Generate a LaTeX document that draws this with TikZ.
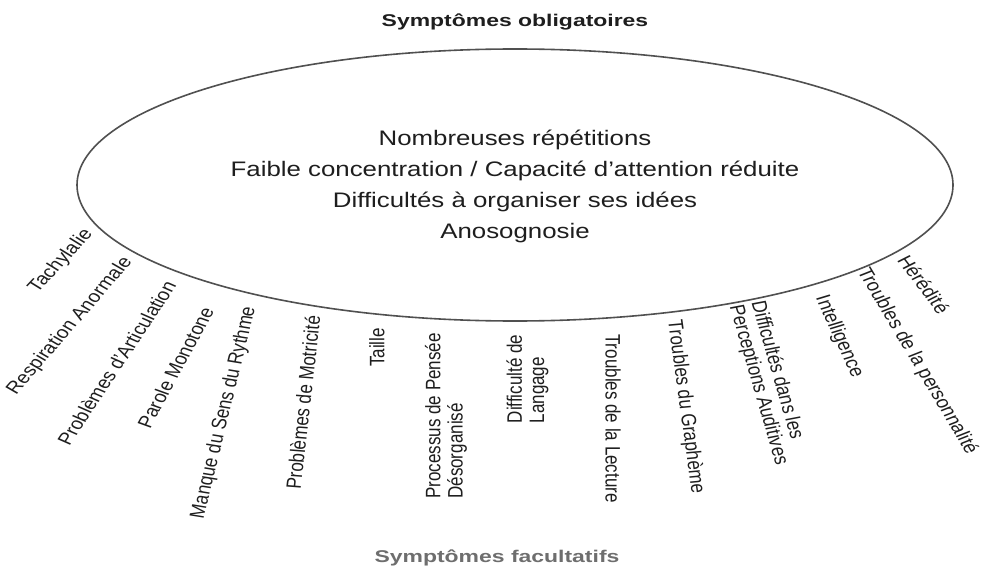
\documentclass[tikz,border=0pt]{standalone}
\usepackage{fontspec}
\setmainfont{Liberation Sans}
\usetikzlibrary{shapes.geometric}
\definecolor{ink}{HTML}{1E1E1E}
\definecolor{edge}{HTML}{505050}
\definecolor{soft}{HTML}{6E6E6E}
\tikzset{
  lbl/.style={font=\fontsize{17}{18}\selectfont, text=ink, xscale=1.23, inner sep=0pt, align=left},
  headline/.style={font=\fontsize{17}{20}\selectfont\bfseries, xscale=1.35, inner sep=0pt},
  coreline/.style={font=\fontsize{21}{31}\selectfont, text=ink, xscale=1.23, align=center, inner sep=0pt},
}
\begin{document}
\begin{tikzpicture}[x=1pt,y=-1pt]
\useasboundingbox (0,0) rectangle (981,588);
\fill[white] (0,0) rectangle (981,588);

\node[headline, text=ink] (title) at (515,22) {Symptômes obligatoires};
\node[draw=edge, line width=1.6pt, ellipse, minimum width=876pt, minimum height=272pt, inner sep=0pt] (core) at (515,185) {};
\node[coreline] (coretext) at (515,186) {Nombreuses répétitions\\Faible concentration / Capacité d’attention réduite\\Difficultés à organiser ses idées\\Anosognosie};

% left side (reading upwards)
\node[lbl, rotate=52.7] (l1) at (61,261) {Tachylalie};
\node[lbl, rotate=54.6] (l2) at (70,326) {Respiration Anormale};
\node[lbl, rotate=61.5] (l3) at (116.5,363) {Problèmes d’Articulation};
\node[lbl, rotate=66.1] (l4) at (175.5,367.5) {Parole Monotone};
\node[lbl, rotate=78.7] (l5) at (224,412.5) {Manque du Sens du Rythme};
\node[lbl, rotate=84.7] (l6) at (303,402.5) {Problèmes de Motricité};
\node[lbl, rotate=90] (l7) at (377,347.5) {Taille};
\node[lbl, rotate=90] (l8) at (446,416) {Processus de Pensée\\Désorganisé};
\node[lbl, rotate=90] (l9) at (527.5,379) {Difficulté de\\Langage};

% right side (reading downwards)
\node[lbl, rotate=-90] (l10) at (613,418.5) {Troubles de la Lecture};
\node[lbl, rotate=-83.6] (l11) at (685.5,407) {Troubles du Graphème};
\node[lbl, rotate=-76.7] (l12) at (769,383) {Difficultés dans les\\Perceptions Auditives};
\node[lbl, rotate=-69.6] (l13) at (839,336.5) {Intelligence};
\node[lbl, rotate=-64.1] (l14) at (917,361) {Troubles de la personnalité};
\node[lbl, rotate=-58.2] (l15) at (924,284.5) {Hérédité};

\node[headline, text=soft] (facult) at (497,558) {Symptômes facultatifs};
\end{tikzpicture}
\end{document}
